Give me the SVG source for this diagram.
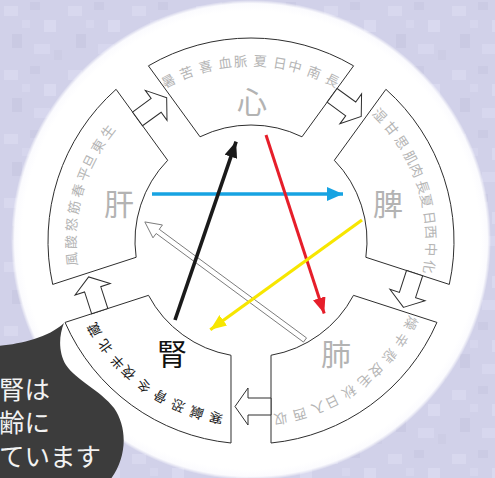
<svg xmlns="http://www.w3.org/2000/svg" width="495" height="478" viewBox="0 0 495 478">
<defs>
<pattern id="tex" width="64" height="64" patternUnits="userSpaceOnUse">
<rect width="64" height="64" fill="#d1d1e9"/>
<rect x="4" y="6" width="14" height="10" fill="#d8d8ee"/>
<rect x="30" y="2" width="10" height="8" fill="#cbcbe4"/>
<rect x="44" y="20" width="12" height="12" fill="#d9d9ef"/>
<rect x="12" y="34" width="10" height="14" fill="#cacae3"/>
<rect x="34" y="44" width="16" height="10" fill="#d7d7ee"/>
<rect x="54" y="50" width="8" height="10" fill="#cdcde5"/>
<rect x="22" y="20" width="8" height="8" fill="#d6d6ed"/>
</pattern>
<radialGradient id="disc" cx="251" cy="240" r="240" gradientUnits="userSpaceOnUse">
<stop offset="0.955" stop-color="#ffffff"/>
<stop offset="0.985" stop-color="#fbfbfe"/>
<stop offset="1" stop-color="#ffffff" stop-opacity="0"/>
</radialGradient>
<marker id="mBlack" viewBox="0 0 16 13" refX="16" refY="6.5" markerWidth="16" markerHeight="13" markerUnits="userSpaceOnUse" orient="auto"><path d="M0,0 L16,6.5 L0,13 Z" fill="#1a1a1a"/></marker>
<marker id="mRed" viewBox="0 0 16 13" refX="16" refY="6.5" markerWidth="16" markerHeight="13" markerUnits="userSpaceOnUse" orient="auto"><path d="M0,0 L16,6.5 L0,13 Z" fill="#e61e2a"/></marker>
<marker id="mBlue" viewBox="0 0 16 14" refX="16" refY="7" markerWidth="16" markerHeight="14" markerUnits="userSpaceOnUse" orient="auto"><path d="M0,0 L16,7 L0,14 Z" fill="#17a3e2"/></marker>
<marker id="mYellow" viewBox="0 0 16 13" refX="16" refY="6.5" markerWidth="16" markerHeight="13" markerUnits="userSpaceOnUse" orient="auto"><path d="M0,0 L16,6.5 L0,13 Z" fill="#f7e600"/></marker>
<path id="ringArrow" d="M16,0 L3,-18.5 L3,-8.5 L-20,-8.5 L-20,8.5 L3,8.5 L3,18.5 Z"/>
<path id="tp-shin" d="M164.83,88.68 A175,175 0 0 1 386.03,129.68"/>
<path id="tp-hi" d="M371.47,114.06 A175,175 0 0 1 396.93,337.58"/>
<path id="tp-hai" d="M409.60,314.96 A175,175 0 0 1 205.71,410.04"/>
<path id="tp-jin" d="M223.62,413.85 A175,175 0 0 1 76.03,244.05"/>
<path id="tp-kan" d="M77.70,265.36 A175,175 0 0 1 196.93,74.56"/>
</defs>
<style>
.seg{fill:#ffffff;stroke:#2e2e2e;stroke-width:1}
.big{font-family:"Noto Sans CJK JP","Noto Sans CJK SC",sans-serif;font-size:30px;text-anchor:middle;fill:#b3b3b3}
.arc{font-family:"Noto Sans CJK JP","Noto Sans CJK SC",sans-serif;font-size:13.5px;fill:#b5b5b5}
.ra{fill:#ffffff;stroke:#2e2e2e;stroke-width:1;stroke-linejoin:miter}
.ln{fill:none;stroke-linecap:butt}
.bub{font-family:"Noto Sans CJK JP","Noto Sans CJK SC",sans-serif;font-size:25.5px;fill:#f2f2f2}
</style>
<rect width="495" height="478" fill="url(#tex)"/>
<circle cx="251" cy="240" r="240" fill="url(#disc)"/>

<g id="seg-shin">
<path class="seg" d="M148.42,65.83 A203,203 0 0 1 353.58,65.83 L301.98,136.81 A116,116 0 0 0 200.02,136.81 Z"/>
<text class="big" x="252" y="113">心</text>
<text class="arc" letter-spacing="1.4"><textPath href="#tp-shin">暑 苦 喜 血脈 夏 日中 南 長</textPath></text>
</g>
<g id="seg-hi">
<path class="seg" d="M385.91,89.32 A203,203 0 0 1 449.31,284.42 L365.85,257.29 A116,116 0 0 0 334.33,160.30 Z"/>
<text class="big" x="388" y="215">脾</text>
<text class="arc" letter-spacing="0.25"><textPath href="#tp-hi">湿 甘 思 肌肉 長夏 日西 中 化</textPath></text>
</g>
<g id="seg-hai">
<path class="seg" d="M436.95,322.42 A203,203 0 0 1 271.00,443.01 L271.01,355.26 A116,116 0 0 0 353.49,295.33 Z"/>
<text class="big" x="336" y="365">肺</text>
<text class="arc" letter-spacing="1.25"><textPath href="#tp-hai">燥 辛 悲 皮毛 秋 日入 西 収</textPath></text>
</g>
<g id="seg-jin">
<path class="seg" d="M231.00,443.01 A203,203 0 0 1 65.05,322.42 L148.51,295.33 A116,116 0 0 0 230.99,355.26 Z"/>
<text class="big" x="172" y="365" style="fill:#111111">腎</text>
<text class="arc" letter-spacing="1.4" style="fill:#1a1a1a"><textPath href="#tp-jin">寒 鹹 恐 骨 冬 夜半 北 蔵</textPath></text>
</g>
<g id="seg-kan">
<path class="seg" d="M52.69,284.42 A203,203 0 0 1 116.09,89.32 L167.67,160.30 A116,116 0 0 0 136.15,257.29 Z"/>
<text class="big" x="119" y="215">肝</text>
<text class="arc" letter-spacing="0.15"><textPath href="#tp-kan">風 酸 怒 筋 春 平旦 東 生</textPath></text>
</g>

<g id="connectors">
<use href="#ringArrow" class="ra" transform="translate(153.72,107.11) rotate(-36)"/>
<use href="#ringArrow" class="ra" transform="translate(348.28,107.11) rotate(36)"/>
<use href="#ringArrow" class="ra" transform="translate(408.41,292.14) rotate(108)"/>
<use href="#ringArrow" class="ra" transform="translate(251,406.5) rotate(180)"/>
<use href="#ringArrow" class="ra" transform="translate(93.59,292.14) rotate(252)"/>
<path d="M0,-2.6 L183,-2.6 L183,-8 L199,0 L183,8 L183,2.6 L0,2.6 Z" fill="#ffffff" stroke="#7a7a7a" stroke-width="0.9" transform="translate(305,340) rotate(216.4)"/>
<path class="ln" d="M152,194 L343,194" stroke="#17a3e2" stroke-width="3.6" marker-end="url(#mBlue)"/>
<path class="ln" d="M266,135 L324.2,313.5" stroke="#e61e2a" stroke-width="3" marker-end="url(#mRed)"/>
<path class="ln" d="M362,220 L210.3,329.7" stroke="#f7e600" stroke-width="3.2" marker-end="url(#mYellow)"/>
<path class="ln" d="M175,320 L236.1,141.6" stroke="#1a1a1a" stroke-width="3.6" marker-end="url(#mBlack)"/>
</g>

<g id="bubble">
<path d="M-2,346 C20,344 48,338 64,323 C59,335 58,352 66,365 C76,380 100,390 114,408 C128,428 127,458 110,480 L-2,480 Z" fill="#3c3c3c"/>
<text class="bub" x="-1" y="399">腎は</text>
<text class="bub" x="-1" y="432">齢に</text>
<text class="bub" x="-1" y="466">ています</text>
</g>
</svg>
